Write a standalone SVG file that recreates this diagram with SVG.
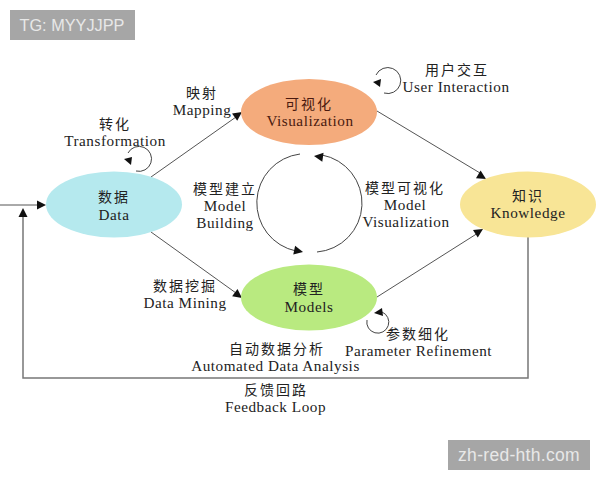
<svg xmlns="http://www.w3.org/2000/svg" width="600" height="480" viewBox="0 0 600 480">
<style>
.c{fill:none;stroke:#555;stroke-width:1}
.f{fill:none;stroke:#777;stroke-width:1.5}
.a{fill:none;stroke:#444;stroke-width:1}
.h{fill:#111;stroke:none}
text{font-family:"Liberation Serif","Noto Sans CJK SC",serif;font-size:15.2px;fill:#222;text-anchor:middle;letter-spacing:.55px}
.z{font-family:"Noto Sans CJK SC","Liberation Serif",sans-serif;font-size:14px;letter-spacing:2px}
.w{font-family:"Liberation Sans",sans-serif;font-size:16.300px;fill:#e8e8e8;letter-spacing:0}
.u{font-size:17.500px;letter-spacing:.3px}
.d{fill:#4a1a10}
</style>
<defs>
<polygon id="t" class="h" points="0,0 -9,-4.500 -9,4.500"/>
</defs>
<rect width="600" height="480" fill="#fff"/>
<g id="badge-top"><rect x="10" y="10" width="125" height="30" fill="#a6a6a6"/><text class="w" x="72" y="31">TG: MYYJJPP</text></g>
<g id="badge-bottom"><rect x="448" y="440" width="142" height="30" fill="#a6a6a6"/><text class="w u" x="519" y="461">zh-red-hth.com</text></g>
<g id="connectors">
<path class="c" d="M0 205H40"/><use href="#t" transform="translate(46 205)"/>
<path class="f" d="M528 237V378H23V216"/><use href="#t" transform="translate(23 208) rotate(-90)"/>
<path class="c" d="M151 177L236 117"/><use href="#t" transform="translate(242 112) rotate(-35)"/>
<path class="c" d="M151 232L236 293"/><use href="#t" transform="translate(242 298) rotate(37)"/>
<path class="c" d="M377 111L480 173"/><use href="#t" transform="translate(486 179) rotate(31)"/>
<path class="c" d="M377 297L478 233"/><use href="#t" transform="translate(483 229) rotate(-32)"/>
<path class="a" d="M300 154A49.200 49.200 0 0 0 296 251"/><use href="#t" transform="translate(303 252) rotate(12)"/>
<path class="a" d="M317 252A49 49 0 0 0 322 155"/><use href="#t" transform="translate(314 156) rotate(188)"/>
<path class="a" d="M136 171A12.500 12.500 0 1 0 128 153"/><polygon class="h" points="124,159 132,157 131,165"/>
<path class="a" d="M384 93A13 13 0 1 0 376 75"/><polygon class="h" points="373,82 381,79 380,87"/>
<path class="a" d="M382 312A11 11 0 1 1 367 320"/><polygon class="h" points="374,313 382,308 383,316"/>
</g>
<g id="node-data"><ellipse cx="114" cy="204.500" rx="68" ry="33" fill="#b5e9ee"/><text class="z" x="114" y="202">数据</text><text x="114" y="220">Data</text></g>
<g id="node-vis"><ellipse cx="309" cy="112" rx="68" ry="33" fill="#f4ab7c"/><text class="z d" x="309" y="109">可视化</text><text class="d" x="310" y="126">Visualization</text></g>
<g id="node-know"><ellipse cx="528" cy="204.500" rx="68" ry="33" fill="#f8e596"/><text class="z" x="528" y="201">知识</text><text x="528" y="218">Knowledge</text></g>
<g id="node-models"><ellipse cx="309" cy="297.500" rx="68" ry="33" fill="#b9ea80"/><text class="z" x="309" y="294">模型</text><text x="309" y="312">Models</text></g>
<g id="labels">
<text class="z" x="202" y="98">映射</text><text x="202" y="115">Mapping</text>
<text class="z" x="115" y="129">转化</text><text x="115" y="146">Transformation</text>
<text class="z" x="225" y="194">模型建立</text><text x="225" y="211">Model</text><text x="225" y="228">Building</text>
<text class="z" x="405" y="193">模型可视化</text><text x="405" y="210">Model</text><text x="406" y="227">Visualization</text>
<text class="z" x="457" y="75">用户交互</text><text x="456" y="92">User Interaction</text>
<text class="z" x="185" y="291">数据挖掘</text><text x="185" y="308">Data Mining</text>
<text class="z" x="277" y="354">自动数据分析</text><text x="275.500" y="371">Automated Data Analysis</text>
<text class="z" x="418" y="339">参数细化</text><text x="418.500" y="356">Parameter Refinement</text>
<text class="z" x="276" y="395">反馈回路</text><text x="275.500" y="412">Feedback Loop</text>
</g>
</svg>
